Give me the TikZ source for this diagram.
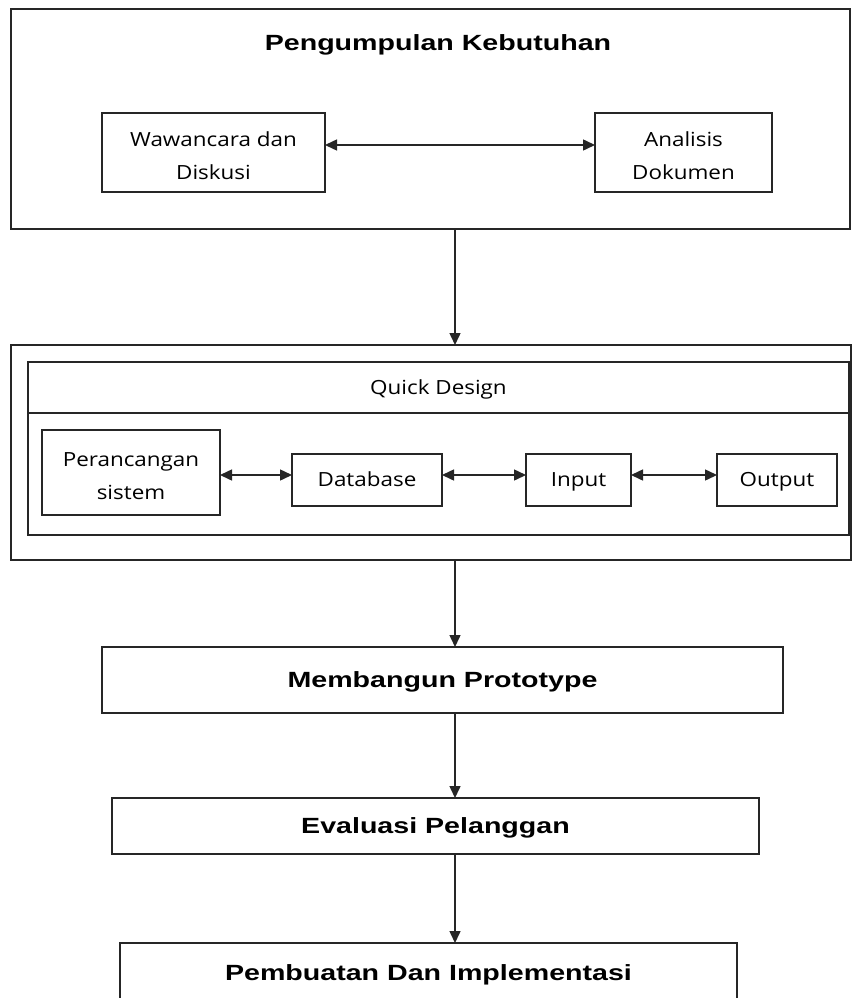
\documentclass[tikz,border=0pt]{standalone}
\usepackage{fontspec}
\setmainfont{Open Sans}[FakeStretch=1.15]
\newfontfamily\headfont{Liberation Sans}[FakeStretch=1.3]
\usetikzlibrary{arrows.meta}
\begin{document}
\begin{tikzpicture}[x=1pt,y=-1pt,
  box/.style={draw=black!85,line width=1.6pt,inner sep=0pt,outer sep=0pt,anchor=north west},
  headtext/.style={font=\headfont\bfseries\fontsize{22}{26}\selectfont,text height=15.8pt,text depth=0pt},
  bodytext/.style={font=\fontsize{19.5}{33}\selectfont,align=center},
  oneline/.style={bodytext,text height=13.9pt,text depth=0pt},
  flow/.style={draw=black!85,line width=1.5pt,-{Triangle[length=12pt,width=11pt]}},
  both/.style={draw=black!85,line width=1.5pt,{Triangle[length=12pt,width=11pt]}-{Triangle[length=12pt,width=11pt]}}]
\useasboundingbox (0,0) rectangle (852,998);
\fill[white] (0,0) rectangle (852,998);
\begin{scope}
\clip (0,0) rectangle (852,998);

% requirement gathering stage
\node[box,minimum width=839pt,minimum height=220pt] (req) at (11,9) {};
\node[headtext] (reqtitle) at (438,43) {Pengumpulan Kebutuhan};
\node[box,minimum width=223pt,minimum height=79pt] (ww) at (102,113) {};
\node[bodytext] (wwtext) at ([yshift=-3pt]ww.center) {Wawancara dan\\Diskusi};
\node[box,minimum width=177pt,minimum height=79pt] (ad) at (595,113) {};
\node[bodytext] (adtext) at ([yshift=-3pt]ad.center) {Analisis\\Dokumen};
\draw[both] ([yshift=7.5pt]ww.east) -- ([yshift=7.5pt]ad.west);

% quick design stage
\node[box,minimum width=840pt,minimum height=215pt] (qd) at (11,345) {};
\node[box,minimum width=821pt,minimum height=173pt] (qdin) at (28,362) {};
\node[box,minimum width=821pt,minimum height=51pt,oneline] (qdhead) at (28,362) {Quick Design};
\node[box,minimum width=178pt,minimum height=85pt] (ps) at (42,430) {};
\node[bodytext] (pstext) at ([yshift=-4pt]ps.center) {Perancangan\\sistem};
\node[box,minimum width=150pt,minimum height=52pt,oneline] (db) at (292,454) {Database};
\node[box,minimum width=105pt,minimum height=52pt,oneline] (in) at (526,454) {Input};
\node[box,minimum width=120pt,minimum height=52pt,oneline] (out) at (717,454) {Output};
\draw[both] ([yshift=5pt]ps.east |- db.west) -- ([yshift=5pt]db.west);
\draw[both] ([yshift=5pt]db.east) -- ([yshift=5pt]in.west);
\draw[both] ([yshift=5pt]in.east) -- ([yshift=5pt]out.west);

% remaining stages
\node[box,minimum width=681pt,minimum height=66pt,headtext] (mp) at (102,647) {Membangun Prototype};
\node[box,minimum width=647pt,minimum height=56pt,headtext] (ep) at (112,798) {Evaluasi Pelanggan};
\node[box,minimum width=617pt,minimum height=60pt,headtext] (pi) at (120,943) {Pembuatan Dan Implementasi};

% vertical flow
\coordinate (axis) at (455,0);
\draw[flow] (req.south -| axis) -- (qd.north -| axis);
\draw[flow] (qd.south -| axis) -- (mp.north -| axis);
\draw[flow] (mp.south -| axis) -- (ep.north -| axis);
\draw[flow] (ep.south -| axis) -- (pi.north -| axis);
\end{scope}
\end{tikzpicture}
\end{document}
